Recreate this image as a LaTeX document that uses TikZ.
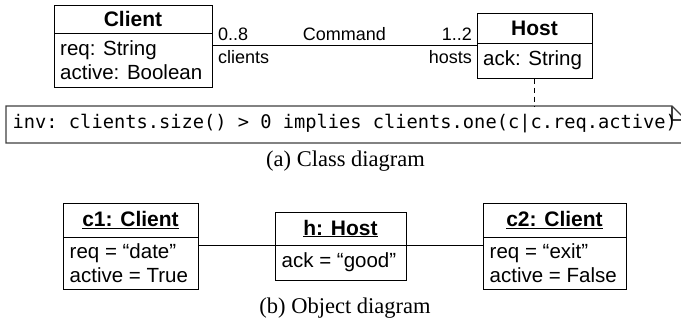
\documentclass[tikz,border=0pt]{standalone}
\usepackage{fontspec}
\setmainfont{Liberation Serif}
\setsansfont{Liberation Sans}
\setmonofont{DejaVu Sans Mono}
\begin{document}
\begin{tikzpicture}[x=1pt,y=-1pt]
\tikzset{
 uml/.style={draw, line width=1pt, inner sep=0pt},
 umlhead/.style={uml, font=\fontsize{21}{24}\selectfont\sffamily\bfseries},
 umlbody/.style={uml},
 bodytext/.style={font=\fontsize{20.5}{24}\selectfont\sffamily, align=left, inner sep=0pt, anchor=west},
 lbl/.style={font=\fontsize{18}{20}\selectfont\sffamily, inner sep=0pt},
 capt/.style={font=\fontsize{22.5}{26}\selectfont\rmfamily, inner sep=0pt, anchor=base},
 conn/.style={line width=1pt},
 notebox/.style={line width=1.1pt, draw=black!75},
 notetext/.style={font=\fontsize{18.7}{22}\selectfont\ttfamily, inner sep=0pt, anchor=base west},
}
\useasboundingbox (0,0) rectangle (681,327);
\clip (0,0) rectangle (681,327);
\fill[white] (0,0) rectangle (681,327);

% ---------- (a) Class diagram ----------
\node[umlhead, minimum width=158pt, minimum height=28pt] (clientH) at (133,19) {Client};
\node[umlbody, minimum width=158pt, minimum height=54pt] (clientB) at (133,60) {};
\node[bodytext] (clientT) at ([xshift=6.5pt]clientB.west) {req: String\\active: Boolean};

\node[umlhead, minimum width=115pt, minimum height=30pt] (hostH) at (534.5,28) {Host};
\node[umlbody, minimum width=115pt, minimum height=35pt] (hostB) at (534.5,60.5) {};
\node[bodytext] (hostT) at ([xshift=6.5pt]hostB.west) {ack: String};

\draw[conn] ([yshift=-12.5pt]clientB.north east) -- ([yshift=-2.5pt]hostB.north west);

\node[lbl, anchor=base west] (m1) at (218,40.7) {0..8};
\node[lbl, anchor=base] (assoc) at (344.5,40.7) {Command};
\node[lbl, anchor=base east] (m2) at (472,40.7) {1..2};
\node[lbl, anchor=base west] (r1) at (218,63) {clients};
\node[lbl, anchor=base east] (r2) at (472,63) {hosts};

% note
\draw[notebox] (6,106) -- (672,106) -- (686,120) -- (686,143) -- (6,143) -- cycle;
\draw[notebox] (672,106) -- (672,120) -- (686,120);
\node[notetext] (noteT) at (12.5,128.5) {inv: clients.size() > 0 implies clients.one(c|c.req.active)};
\coordinate (noteTop) at (534.5,106);
\draw[conn, dash pattern=on 5pt off 4pt] (hostB.south) -- (noteTop);

\node[capt] (capA) at (345.5,166) {(a) Class diagram};

% ---------- (b) Object diagram ----------
\node[umlhead, minimum width=135pt, minimum height=34pt] (c1H) at (130.5,220) {\underline{c1: Client}};
\node[umlbody, minimum width=135pt, minimum height=52pt] (c1B) at (130.5,263) {};
\node[bodytext] (c1T) at ([xshift=7pt]c1B.west) {req = “date”\\active = True};

\node[umlhead, minimum width=131pt, minimum height=33pt] (hH) at (340.5,228.5) {\underline{h: Host}};
\node[umlbody, minimum width=131pt, minimum height=35pt] (hB) at (340.5,262.5) {};
\node[bodytext] (hT) at ([xshift=7pt]hB.west) {ack = “good”};

\node[umlhead, minimum width=143pt, minimum height=34pt] (c2H) at (554.5,220) {\underline{c2: Client}};
\node[umlbody, minimum width=143pt, minimum height=52pt] (c2B) at (554.5,263) {};
\node[bodytext] (c2T) at ([xshift=7pt]c2B.west) {req = “exit”\\active = False};

\draw[conn] ([yshift=-9pt]c1B.north east) -- ([yshift=-1pt]hB.north west);
\draw[conn] ([yshift=-1pt]hB.north east) -- ([yshift=-9pt]c2B.north west);

\node[capt] (capB) at (345,313) {(b) Object diagram};
\end{tikzpicture}
\end{document}
